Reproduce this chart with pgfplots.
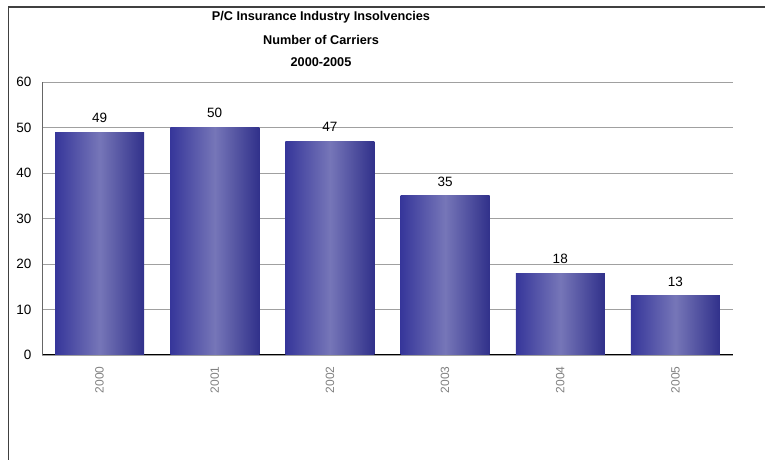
\documentclass[border=0pt]{standalone}
\usepackage{fontspec}
\setmainfont{Liberation Sans}
\usepackage{pgfplots}
\pgfplotsset{compat=1.18}
\definecolor{bardark}{HTML}{36369A}
\definecolor{barlight}{HTML}{7676B8}
\definecolor{gridgray}{HTML}{A0A0A0}
\pgfplotsset{barstyle/.style={draw=none, bar shift=0pt, left color=bardark, right color=bardark!90!black, middle color=barlight}}
\begin{document}
\begin{tikzpicture}[x=1pt,y=1pt]
\useasboundingbox (0,0) rectangle (765,460);
\draw[line width=1.6pt, black!75] (8.5,0) -- (8.5,453) -- (765,453);
\node[font=\fontsize{12.7}{14}\selectfont\bfseries] at (321,443) {P/C Insurance Industry Insolvencies};
\node[font=\fontsize{12.7}{14}\selectfont\bfseries] at (321,420) {Number of Carriers};
\node[font=\fontsize{12.7}{14}\selectfont\bfseries] at (321,398) {2000-2005};
\begin{axis}[
  at={(42pt,105pt)}, anchor=south west,
  scale only axis, width=691pt, height=273pt,
  xmin=-0.5, xmax=5.5, ymin=0, ymax=60,
  ytick={0,10,...,60},
  xtick={0,1,2,3,4,5},
  xticklabels={2000,2001,2002,2003,2004,2005},
  axis x line*=bottom, axis y line*=left,
  x axis line style={black, line width=1pt, -},
  y axis line style={black!60, line width=1pt, -},
  major tick length=0pt,
  ymajorgrids, grid style={gridgray, line width=0.8pt},
  yticklabel style={font=\fontsize{13.5}{15}\selectfont, xshift=-7pt},
  xticklabel style={font=\fontsize{12}{14}\selectfont, rotate=90, anchor=east, text=black!50, xshift=-8pt},
  /pgf/number format/assume math mode=true,
  ybar, bar width=89pt,
  nodes near coords,
  nodes near coords style={font=\fontsize{13.5}{15}\selectfont, yshift=6pt},
  clip=false,
]
\addplot[barstyle] coordinates {(0,49)};
\addplot[barstyle] coordinates {(1,50)};
\addplot[barstyle] coordinates {(2,47)};
\addplot[barstyle] coordinates {(3,35)};
\addplot[barstyle] coordinates {(4,18)};
\addplot[barstyle] coordinates {(5,13)};
\end{axis}
\end{tikzpicture}
\end{document}
